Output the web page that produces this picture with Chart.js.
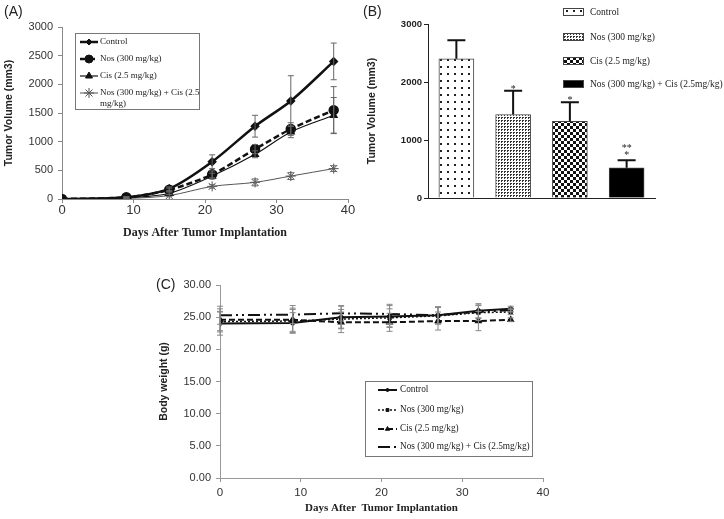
<!DOCTYPE html>
<html>
<head>
<meta charset="utf-8">
<script src="https://cdn.jsdelivr.net/npm/chart.js@4.4.0/dist/chart.umd.min.js"></script>
<style>
body { margin: 0; background: #fff; width: 724px; height: 519px; position: relative; overflow: hidden; font-family: "Liberation Sans", Arial, sans-serif; }
canvas { position: absolute; }
.lab { position: absolute; font-size: 14px; color: #222; }
</style>
</head>
<body>
<canvas id="chartA" width="360" height="245" style="left:0;top:0"></canvas>
<canvas id="chartB" width="364" height="215" style="left:360px;top:0"></canvas>
<canvas id="chartC" width="420" height="257" style="left:150px;top:262px"></canvas>
<div class="lab" style="left:4px;top:3px">(A)</div>
<div class="lab" style="left:363px;top:3px">(B)</div>
<div class="lab" style="left:156px;top:276px">(C)</div>
<script>
// Panel A - tumor volume over time
const daysA = [0, 9, 15, 21, 27, 32, 38];
const ctrlA = [0, 30, 180, 650, 1270, 1710, 2400];
const ctrlAErr = [0, 10, 30, 120, 190, 440, 320];
const nosA = [0, 30, 160, 430, 870, 1220, 1550];
const nosAErr = [0, 10, 30, 60, 80, 110, 410];
const cisA = [0, 20, 100, 400, 780, 1170, 1460];
const cisAErr = [0, 10, 20, 50, 60, 100, 310];
const comboA = [0, 10, 60, 220, 290, 400, 530];
const comboAErr = [0, 5, 20, 30, 60, 60, 50];

// Panel B - final tumor volume
const groupsB = ['Control', 'Nos (300 mg/kg)', 'Cis (2.5 mg/kg)', 'Nos (300 mg/kg) + Cis (2.5mg/kg)'];
const volB = [2400, 1440, 1320, 520];
const volBErr = [320, 410, 330, 130];
const starsB = [[], ['*'], ['*'], ['**', '*']];

// Panel C - body weight
const daysC = [0, 9, 15, 21, 27, 32, 36];
const ctrlC = [24.0, 24.1, 25.0, 25.1, 25.3, 26.0, 26.3];
const ctrlCErr = [1.8, 1.6, 1.7, 1.7, 1.3, 1.1, 0.4];
const nosC = [24.3, 24.4, 24.7, 24.9, 25.2, 25.7, 25.8];
const nosCErr = [1.6, 1.8, 1.5, 1.4, 1.3, 1.2, 0.4];
const cisC = [24.6, 24.6, 24.2, 24.2, 24.4, 24.4, 24.6];
const cisCErr = [1.7, 1.8, 1.6, 1.4, 1.4, 1.5, 0.3];
const comboC = [25.3, 25.4, 25.6, 25.5, 25.3, 25.8, 26.1];
const comboCErr = [1.4, 1.4, 1.2, 1.5, 1.3, 1.0, 0.3];

const sans = '"Liberation Sans", Arial, sans-serif';
const serif = '"Liberation Serif", "Times New Roman", serif';

function pts(xs, ys) {
    return xs.map((x, i) => ({ x: x, y: ys[i] }));
}

// patterns for the bars
function makePattern(kind) {
    const c = document.createElement('canvas');
    const g = c.getContext('2d');
    if (kind === 'dots') {
        c.width = 7; c.height = 7;
        g.fillStyle = '#fff'; g.fillRect(0, 0, 7, 7);
        g.fillStyle = '#222'; g.fillRect(3, 3, 2, 2);
    } else if (kind === 'fine') {
        c.width = 3; c.height = 3;
        g.fillStyle = '#fff'; g.fillRect(0, 0, 3, 3);
        g.fillStyle = '#333'; g.fillRect(0, 0, 2, 1);
        g.fillRect(0, 1, 1, 1);
    } else if (kind === 'check') {
        c.width = 6; c.height = 6;
        g.fillStyle = '#fff'; g.fillRect(0, 0, 6, 6);
        g.fillStyle = '#111'; g.fillRect(0, 0, 3, 3); g.fillRect(3, 3, 3, 3);
    } else {
        c.width = 2; c.height = 2;
        g.fillStyle = '#000'; g.fillRect(0, 0, 2, 2);
    }
    return document.createElement('canvas').getContext('2d').createPattern(c, 'repeat');
}
const fillsB = [makePattern('dots'), makePattern('fine'), makePattern('check'), makePattern('solid')];

// Vẽ thanh sai số
const errorBars = {
    id: 'errorBars',
    afterDatasetsDraw(chart) {
        const ctx = chart.ctx;
        const yScale = chart.scales.y;
        chart.data.datasets.forEach((ds, i) => {
            if (!ds.errs) return;
            const meta = chart.getDatasetMeta(i);
            ctx.save();
            ctx.strokeStyle = ds.errColor || '#666';
            ctx.lineWidth = ds.errWidth || 1;
            meta.data.forEach((el, j) => {
                const raw = ds.data[j];
                const v = typeof raw === 'object' ? raw.y : raw;
                const e = ds.errs[j];
                if (!e) return;
                const top = yScale.getPixelForValue(v + e);
                const bot = ds.errUp ? el.y : yScale.getPixelForValue(v - e);
                const w = ds.capW || 3;
                ctx.beginPath();
                ctx.moveTo(el.x, top); ctx.lineTo(el.x, bot);
                ctx.moveTo(el.x - w, top); ctx.lineTo(el.x + w, top);
                if (!ds.errUp) { ctx.moveTo(el.x - w, bot); ctx.lineTo(el.x + w, bot); }
                ctx.stroke();
                if (ds.stars && ds.stars[j].length) {
                    ctx.fillStyle = '#222';
                    ctx.font = '10px ' + serif;
                    ctx.textAlign = 'center';
                    ctx.textBaseline = 'alphabetic';
                    const lines = ds.stars[j];
                    const base = lines.length > 1 ? top - 2 : top + 1;
                    lines.forEach((s, k) => {
                        ctx.fillText(s, el.x, base - (lines.length - 1 - k) * 7);
                    });
                }
            });
            ctx.restore();
        });
    }
};

// Chú thích tự vẽ
const boxLegend = {
    id: 'boxLegend',
    afterDraw(chart, args, opts) {
        if (!opts.rows) return;
        const ctx = chart.ctx;
        ctx.save();
        if (opts.box) {
            ctx.strokeStyle = '#777';
            ctx.lineWidth = 1;
            ctx.strokeRect(opts.box[0] + 0.5, opts.box[1] + 0.5, opts.box[2], opts.box[3]);
        }
        ctx.font = opts.font;
        ctx.textBaseline = 'middle';
        ctx.textAlign = 'left';
        opts.rows.forEach((ry, i) => {
            if (opts.swatch) {
                ctx.fillStyle = fillsB[i];
                ctx.fillRect(opts.x1, ry - 4, opts.x2 - opts.x1, 8);
                ctx.strokeStyle = '#444';
                ctx.lineWidth = 1;
                ctx.strokeRect(opts.x1 + 0.5, ry - 3.5, opts.x2 - opts.x1 - 1, 7);
                ctx.fillStyle = '#222';
                ctx.fillText(chart.data.labels[i], opts.tx, ry);
                return;
            }
            const ds = chart.data.datasets[i];
            ctx.strokeStyle = ds.borderColor;
            ctx.lineWidth = ds.borderWidth;
            ctx.setLineDash(ds.borderDash || []);
            ctx.beginPath();
            ctx.moveTo(opts.x1, ry); ctx.lineTo(opts.x2, ry);
            ctx.stroke();
            ctx.setLineDash([]);
            ctx.fillStyle = ds.pointBackgroundColor || ds.borderColor;
            ctx.lineWidth = 1;
            if (ds.pointStyle && ds.pointRadius) {
                Chart.helpers.drawPoint(ctx, { pointStyle: ds.pointStyle, radius: ds.pointRadius, rotation: 0, borderWidth: 1 }, (opts.x1 + opts.x2) / 2, ry);
            }
            ctx.fillStyle = '#222';
            // xuống dòng nếu quá dài
            const words = ds.label.split(' ');
            let line = '', lines = [];
            words.forEach(w => {
                const t = line ? line + ' ' + w : w;
                if (ctx.measureText(t).width > opts.maxW && line) { lines.push(line); line = w; }
                else line = t;
            });
            lines.push(line);
            lines.forEach((l, k) => ctx.fillText(l, opts.tx, ry + k * 11));
        });
        ctx.restore();
    }
};

// Biểu đồ A
new Chart(document.getElementById('chartA'), {
    type: 'line',
    data: {
        datasets: [
            { label: 'Control', data: pts(daysA, ctrlA), errs: ctrlAErr, borderColor: '#111', borderWidth: 2.5, pointStyle: 'rectRot', pointRadius: 3, pointBackgroundColor: '#111', tension: 0.3 },
            { label: 'Nos (300 mg/kg)', data: pts(daysA, nosA), errs: nosAErr, borderColor: '#111', borderWidth: 2.5, borderDash: [6, 3], pointStyle: 'circle', pointRadius: 4, pointBackgroundColor: '#111', tension: 0.3 },
            { label: 'Cis (2.5 mg/kg)', data: pts(daysA, cisA), errs: cisAErr, borderColor: '#111', borderWidth: 1.2, pointStyle: 'triangle', pointRadius: 4, pointBackgroundColor: '#111', tension: 0.3 },
            { label: 'Nos (300 mg/kg) + Cis (2.5 mg/kg)', data: pts(daysA, comboA), errs: comboAErr, borderColor: '#555', borderWidth: 1, pointStyle: 'star', pointRadius: 5, pointBackgroundColor: '#555', pointBorderColor: '#555', tension: 0.3 }
        ]
    },
    options: {
        responsive: false,
        animation: false,
        layout: { padding: { top: 27, right: 12, left: 3, bottom: 5 } },
        plugins: {
            legend: { display: false },
            tooltip: { enabled: false },
            boxLegend: { box: [75, 33, 124, 76], rows: [42, 59, 76, 93], x1: 80, x2: 98, tx: 100, maxW: 102, font: '9px ' + serif }
        },
        scales: {
            x: {
                type: 'linear', min: 0, max: 40,
                ticks: { stepSize: 10, color: '#333', font: { family: sans, size: 13 }, padding: 0, callback: v => String(v) },
                grid: { drawOnChartArea: false, tickLength: 4, color: '#888' },
                border: { color: '#888' },
                title: { display: true, text: 'Days After Tumor Implantation', color: '#222', font: { family: serif, size: 12, weight: 'bold' }, padding: 0 },
                afterFit: s => { s.height = 41; }
            },
            y: {
                min: 0, max: 3000,
                ticks: { stepSize: 500, color: '#333', font: { family: sans, size: 11 }, padding: 5, callback: v => String(v) },
                grid: { drawOnChartArea: false, tickLength: 4, color: '#888' },
                border: { color: '#888' },
                title: { display: true, text: 'Tumor Volume (mm3)', color: '#222', font: { family: sans, size: 10.5, weight: 'bold' }, padding: 0 },
                afterFit: s => { s.width = 59; }
            }
        }
    },
    plugins: [errorBars, boxLegend]
});

// Biểu đồ B
new Chart(document.getElementById('chartB'), {
    type: 'bar',
    data: {
        labels: groupsB,
        datasets: [{
            data: volB, errs: volBErr, errUp: true, errColor: '#111', errWidth: 2, capW: 9, stars: starsB,
            backgroundColor: fillsB, borderColor: '#444', borderWidth: 1, barThickness: 35
        }]
    },
    options: {
        responsive: false,
        animation: false,
        layout: { padding: { top: 24, right: 69, left: 6, bottom: 17 } },
        plugins: {
            legend: { display: false },
            tooltip: { enabled: false },
            boxLegend: { swatch: true, rows: [12, 37, 61, 84], x1: 203, x2: 224, tx: 230, font: '9.5px ' + serif }
        },
        scales: {
            x: {
                ticks: { display: false },
                grid: { display: false },
                border: { color: '#222' },
                afterFit: s => { s.height = 0; }
            },
            y: {
                min: 0, max: 3000,
                ticks: { stepSize: 1000, color: '#222', font: { family: sans, size: 9.5, weight: 'bold' }, padding: 2, callback: v => String(v) },
                grid: { drawOnChartArea: false, tickLength: 4, color: '#222' },
                border: { color: '#222' },
                title: { display: true, text: 'Tumor Volume (mm3)', color: '#222', font: { family: sans, size: 10.5, weight: 'bold' }, padding: 0 },
                afterFit: s => { s.width = 62; }
            }
        }
    },
    plugins: [errorBars, boxLegend]
});

// Biểu đồ C
new Chart(document.getElementById('chartC'), {
    type: 'line',
    data: {
        datasets: [
            { label: 'Control', data: pts(daysC, ctrlC), errs: ctrlCErr, errColor: '#888', borderColor: '#111', borderWidth: 2, pointStyle: 'rectRot', pointRadius: 2, pointBackgroundColor: '#111', tension: 0 },
            { label: 'Nos (300 mg/kg)', data: pts(daysC, nosC), errs: nosCErr, errColor: '#888', borderColor: '#111', borderWidth: 1.5, borderDash: [2, 2], pointStyle: 'rect', pointRadius: 2, pointBackgroundColor: '#111', tension: 0 },
            { label: 'Cis (2.5 mg/kg)', data: pts(daysC, cisC), errs: cisCErr, errColor: '#888', borderColor: '#111', borderWidth: 2, borderDash: [6, 3], pointStyle: 'triangle', pointRadius: 2.5, pointBackgroundColor: '#111', tension: 0 },
            { label: 'Nos (300 mg/kg) + Cis (2.5mg/kg)', data: pts(daysC, comboC), errs: comboCErr, errColor: '#888', borderColor: '#111', borderWidth: 2, borderDash: [12, 4, 2, 4, 2, 4], pointRadius: 0, tension: 0 }
        ]
    },
    options: {
        responsive: false,
        animation: false,
        layout: { padding: { top: 23, right: 27, left: 8, bottom: 4 } },
        plugins: {
            legend: { display: false },
            tooltip: { enabled: false },
            boxLegend: { box: [215, 119, 167, 75], rows: [128, 148, 167, 185], x1: 228, x2: 247, tx: 250, maxW: 200, font: '9.3px ' + serif }
        },
        scales: {
            x: {
                type: 'linear', min: 0, max: 40,
                ticks: { stepSize: 10, color: '#333', font: { family: sans, size: 11.5 }, padding: 4, callback: v => String(v) },
                grid: { drawOnChartArea: false, tickLength: 4, color: '#999' },
                border: { color: '#999' },
                title: { display: true, text: 'Days After  Tumor Implantation', color: '#222', font: { family: serif, size: 11, weight: 'bold' }, padding: 0 },
                afterFit: s => { s.height = 37; }
            },
            y: {
                min: 0, max: 30,
                ticks: { stepSize: 5, color: '#333', font: { family: sans, size: 11 }, padding: 5, callback: v => v.toFixed(2) },
                grid: { drawOnChartArea: false, tickLength: 4, color: '#999' },
                border: { color: '#999' },
                title: { display: true, text: 'Body weight (g)', color: '#222', font: { family: sans, size: 10.5, weight: 'bold' }, padding: 0 },
                afterFit: s => { s.width = 62; }
            }
        }
    },
    plugins: [errorBars, boxLegend]
});
</script>
</body>
</html>
